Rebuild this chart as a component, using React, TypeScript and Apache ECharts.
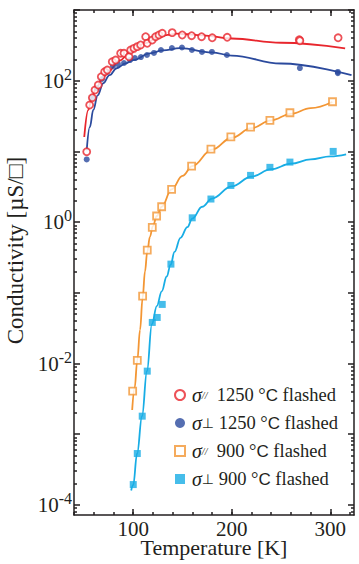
import React, { useEffect, useRef } from 'react';
import * as echarts from 'echarts';

// ---- data (Temperature [K], Conductivity [µS/□]) ----
const redT = [52.9, 55.9, 58.6, 61.3, 64.6, 67.7, 71.1, 73.8, 78.8, 82.3, 87.3, 90.7, 95.8, 97.5, 100.8, 104.2, 107.6, 112.7, 114.3, 119.4, 122.8, 126.2, 129.5, 139.6, 149.8, 159.3, 169.4, 180.2, 195.4, 268.5, 269.1, 307.9];
const redS = [9.9, 45.3, 57.4, 73.8, 86.9, 113.8, 134, 141.6, 185, 196, 244, 244, 218, 272, 287, 303, 320, 419, 338, 376, 419, 443, 468, 478, 443, 433, 419, 405, 411, 380, 368, 405];
const redFitT = [50.4, 54.5, 58, 63, 70, 76.5, 85, 100, 112, 124, 135, 144, 150, 170, 200, 250, 315];
const redFitS = [16, 38.5, 58, 82, 115, 141, 190, 272, 340, 398, 445, 462, 458, 438, 395, 344, 287];

const blueT = [52.9, 58.2, 63.3, 68.4, 73.5, 79.5, 84.6, 90.7, 96.8, 101.8, 107.9, 114, 121.1, 128.2, 139.3, 149.5, 159.6, 169.8, 179.9, 195.1, 269.1, 307.6, 307.6];
const blueS = [7.7, 56.9, 78.7, 105.7, 132.7, 161.4, 172, 178, 196, 209, 216, 231, 247, 272, 290, 295, 272, 255, 255, 231, 151, 133, 128];
const blueFitT = [52.9, 56, 59.6, 64, 69.7, 76, 83.3, 92, 100, 117, 130, 147.5, 180, 200, 250, 321.5];
const blueFitS = [10.4, 22, 38.5, 62, 92, 120, 150, 175, 196, 244, 268, 288, 252, 226, 175, 120];

const orangeT = [99.5, 104.2, 109.6, 114.3, 119.4, 123.8, 128.9, 139, 159.3, 178.9, 199.1, 219.1, 238.7, 259, 302.2];
const orangeS = [0.00406, 0.0111, 0.0897, 0.402, 0.841, 1.22, 1.65, 2.9, 6.2, 10.8, 16, 22.1, 27.5, 35.2, 50.4];
const orangeFitT = [99, 101.5, 104.2, 107, 109.6, 112, 114.3, 117, 120, 124, 129, 139, 150, 160, 180, 200, 220, 240, 260, 280, 302];
const orangeFitS = [0.0022, 0.0045, 0.0111, 0.03, 0.085, 0.2, 0.38, 0.62, 0.88, 1.22, 1.65, 2.9, 4.5, 6.2, 10.6, 15.6, 21.3, 27.5, 34, 41, 50];

const cyanT = [100.1, 104.2, 109.2, 114.3, 119.4, 124.4, 129.5, 138.3, 159.9, 178.9, 199.1, 219.1, 238.7, 259, 302.9];
const cyanS = [0.000194, 0.000533, 0.0018, 0.0078, 0.0381, 0.0448, 0.0685, 0.2545, 1.15, 2.12, 3.3, 4.58, 5.95, 7.06, 10];
const cyanFitT = [98, 100, 104, 109, 114, 119, 124, 129, 134, 138, 142, 148, 155, 160, 170, 180, 200, 220, 240, 260, 280, 300, 316];
const cyanFitS = [0.00016, 0.00019, 0.00053, 0.0018, 0.0078, 0.036, 0.065, 0.105, 0.17, 0.25, 0.38, 0.6, 0.85, 1.12, 1.65, 2.15, 3.2, 4.4, 5.6, 6.7, 7.7, 8.5, 9.1];

const seriesNames = ['σ// 1250 °C flashed', 'σ⊥ 1250 °C flashed', 'σ// 900 °C flashed', 'σ⊥ 900 °C flashed'];
const legendRich = [
  '{g|σ}{sub|//}{t|  1250 °}{c|C}{t| flashed}',
  '{g|σ}{perp|⊥}{t| 1250 °}{c|C}{t| flashed}',
  '{g|σ}{sub|//}{t|  900 °}{c|C}{t| flashed}',
  '{g|σ}{perp|⊥}{t| 900 °}{c|C}{t| flashed}',
];

const xMin = 40;
const xMax = 324;
const xMinorTicks = [40, 60, 80, 100, 120, 140, 160, 180, 200, 220, 240, 260, 280, 300, 320];
const xLabelTicks = [100, 200, 300];
const yMin = 7.2e-5;
const yMax = 1000;
const yLabelTicks = [1e-4, 1e-2, 1, 100];
const yMajorTicks = [1e-4, 1e-3, 1e-2, 1e-1, 1, 10, 100, 1000];
const yMinorTicks: number[] = [];
for (let e = -5; e <= 2; e++) {
  for (let k = 2; k <= 9; k++) {
    const v = k * Math.pow(10, e);
    if (v > yMin && v < yMax) yMinorTicks.push(v);
  }
}

const RED = '#e8262d';
const BLUE = '#2b4a9d';
const ORANGE = '#f39634';
const CYAN = '#18ade5';
const INK = '#231f20';
const SERIF = '"Liberation Serif", "Times New Roman", serif';

const zip = (a: number[], b: number[]) => a.map((v, i) => [v, b[i]]);

// main bottom axis: line, labels, name (ticks come from the tick-only axes)
const xMainAxis: any = {
  type: 'value',
  min: xMin,
  max: xMax,
  position: 'bottom',
  offset: 0,
  name: 'Temperature [K]',
  nameLocation: 'middle',
  nameGap: 21,
  nameMoveOverlap: false,
  nameTextStyle: { fontFamily: SERIF, fontSize: 22, color: INK },
  axisLine: { show: true, onZero: false, lineStyle: { color: INK, width: 1.5 } },
  axisTick: { show: false },
  axisLabel: { show: true, customValues: xLabelTicks, margin: 3, fontFamily: SERIF, fontSize: 21, color: INK },
  splitLine: { show: false },
};

function xTickAxis(position: 'top' | 'bottom', ticks: number[], len: number, line: boolean): any {
  return {
    type: 'value',
    min: xMin,
    max: xMax,
    position,
    offset: 0,
    axisLine: { show: line, onZero: false, lineStyle: { color: INK, width: 1.5 } },
    axisTick: { show: true, inside: true, length: len, customValues: ticks, lineStyle: { color: INK, width: 1.5 } },
    axisLabel: { show: false },
    splitLine: { show: false },
  };
}

function yAxisDef(position: 'left' | 'right', ticks: number[], len: number, labels: boolean, line: boolean): any {
  return {
    type: 'log',
    logBase: 10,
    min: yMin,
    max: yMax,
    position,
    name: labels ? 'Conductivity [µS/□]' : '',
    nameLocation: 'middle',
    nameGap: 40,
    nameTextStyle: { fontFamily: SERIF, fontSize: 23, color: INK, padding: [0, 0, 0, 24] },
    axisLine: { show: line, onZero: false, lineStyle: { color: INK, width: 1.5 } },
    axisTick: { show: true, inside: true, length: len, customValues: ticks, lineStyle: { color: INK, width: 1.5 } },
    axisLabel: labels
      ? {
          show: true,
          customValues: yLabelTicks,
          margin: 2,
          formatter: (v: number) => `{b|10}{s|${Math.round(Math.log10(v))}}`,
          rich: {
            b: { fontFamily: SERIF, fontSize: 21, color: INK },
            s: { fontFamily: SERIF, fontSize: 16, color: INK, padding: [0, 0, 13, 0] },
          },
        }
      : { show: false },
    splitLine: { show: false },
  };
}

export default function App() {
  const ref = useRef<HTMLDivElement>(null);
  useEffect(() => {
    if (!ref.current) return;
    const chart = echarts.init(ref.current, null, { renderer: 'svg' });
    const fit = (data: number[][], color: string) => ({
      type: 'line',
      data,
      smooth: 0.4,
      smoothMonotone: 'x',
      showSymbol: false,
      symbol: 'none',
      lineStyle: { color, width: 1.8 },
      z: 2,
      silent: true,
    });
    chart.setOption({
      animation: false,
      backgroundColor: '#ffffff',
      grid: { left: 74, right: 5, top: 10, bottom: 49, containLabel: false, outerBoundsMode: 'none' },
      xAxis: [
        xMainAxis,
        xTickAxis('bottom', xMinorTicks, 3, false),
        xTickAxis('bottom', xLabelTicks, 6, false),
        xTickAxis('top', xMinorTicks, 3, true),
        xTickAxis('top', xLabelTicks, 6, false),
      ],
      yAxis: [
        yAxisDef('left', yMinorTicks, 3, true, true),
        yAxisDef('left', yMajorTicks, 6, false, false),
        yAxisDef('right', yMinorTicks, 3, false, true),
        yAxisDef('right', yMajorTicks, 6, false, false),
      ],
      legend: {
        orient: 'vertical',
        left: 169,
        top: 380,
        itemWidth: 10,
        itemHeight: 10,
        itemGap: 8,
        data: seriesNames,
        formatter: (name: string) => legendRich[seriesNames.indexOf(name)],
        textStyle: {
          color: INK,
          fontFamily: SERIF,
          fontSize: 18.5,
          lineHeight: 20,
          rich: {
            g: { fontFamily: SERIF, fontStyle: 'italic', fontSize: 20, color: INK, lineHeight: 20, padding: [0, 0, 0, 2] },
            sub: { fontFamily: SERIF, fontStyle: 'italic', fontSize: 10, color: INK, lineHeight: 20 },
            perp: { fontFamily: '"DejaVu Sans", sans-serif', fontSize: 14, color: INK, lineHeight: 20 },
            t: { fontFamily: SERIF, fontSize: 18.5, color: INK, lineHeight: 20 },
            c: { fontFamily: '"Liberation Sans", Arial, sans-serif', fontSize: 17, color: INK, lineHeight: 20 },
          },
        },
      },
      series: [
        fit(zip(redFitT, redFitS), RED),
        fit(zip(blueFitT, blueFitS), BLUE),
        fit(zip(orangeFitT, orangeFitS), ORANGE),
        fit(zip(cyanFitT, cyanFitS), CYAN),
        {
          name: seriesNames[0],
          type: 'scatter',
          data: zip(redT, redS),
          symbol: 'circle',
          symbolSize: 7,
          itemStyle: { color: '#ffffff', borderColor: RED, borderWidth: 1.8 },
          z: 4,
        },
        {
          name: seriesNames[1],
          type: 'scatter',
          data: zip(blueT, blueS),
          symbol: 'circle',
          symbolSize: 6,
          itemStyle: { color: BLUE },
          z: 3,
        },
        {
          name: seriesNames[2],
          type: 'scatter',
          data: zip(orangeT, orangeS),
          symbol: 'rect',
          symbolSize: 7,
          itemStyle: { color: '#ffffff', borderColor: ORANGE, borderWidth: 1.8 },
          z: 4,
        },
        {
          name: seriesNames[3],
          type: 'scatter',
          data: zip(cyanT, cyanS),
          symbol: 'rect',
          symbolSize: 7,
          itemStyle: { color: CYAN },
          z: 4,
        },
      ],
    });
    return () => chart.dispose();
  }, []);
  return <div ref={ref} style={{ position: 'absolute', left: 0, top: 0, width: 359, height: 564 }} />;
}
